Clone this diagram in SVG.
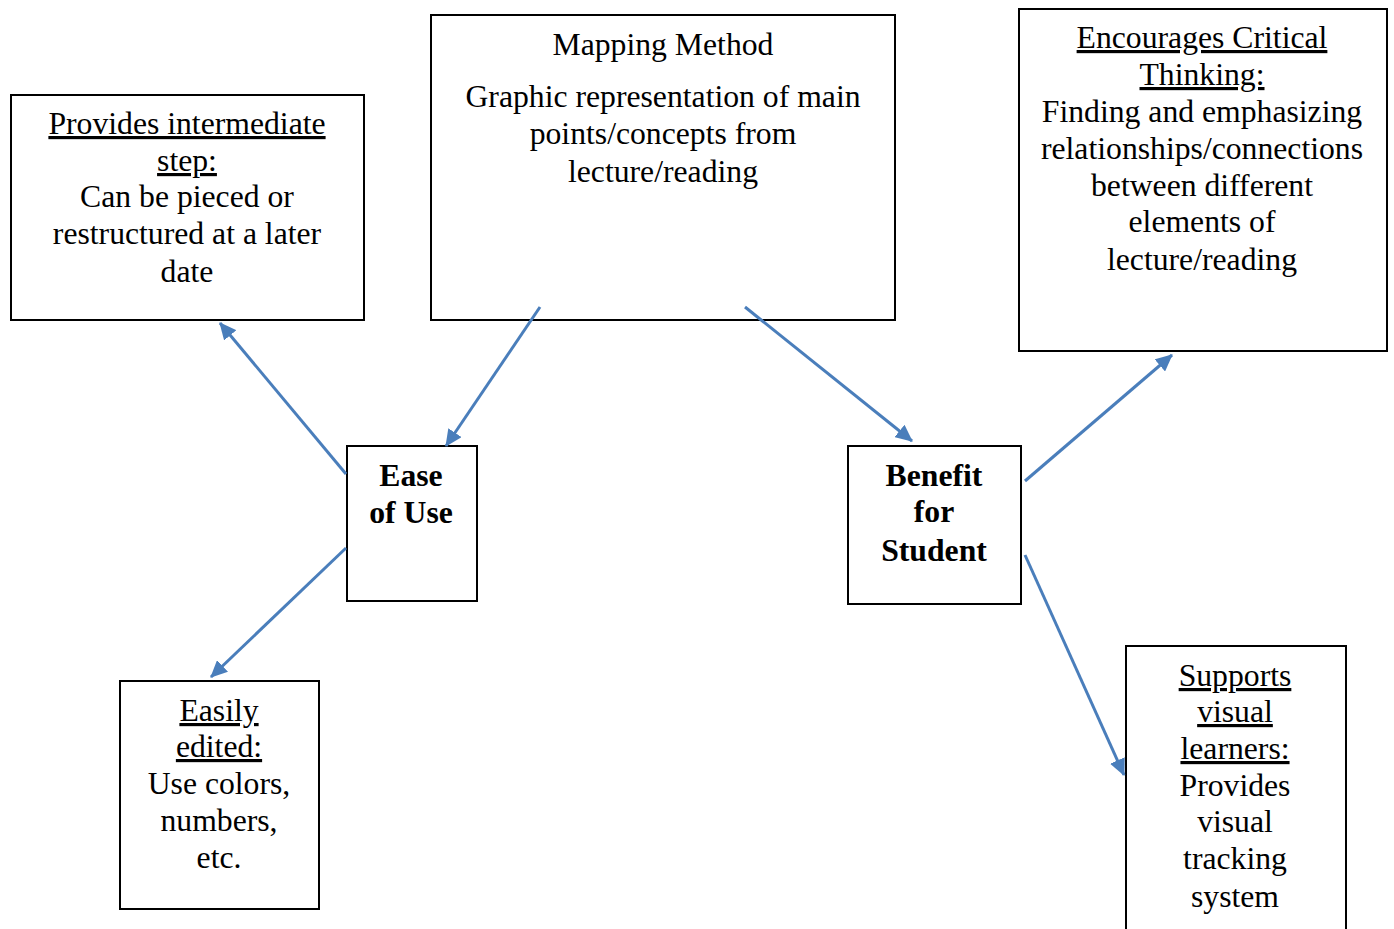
<svg xmlns="http://www.w3.org/2000/svg" width="1394" height="929" viewBox="0 0 1394 929">
<style>
.box{fill:#fff;stroke:#000;stroke-width:2}
.t{font-family:"Liberation Serif","Times New Roman",serif;font-size:31.7px;fill:#000;text-anchor:middle}
.b{font-weight:bold}
.u{text-decoration:underline}
.c{stroke:#4a7ebb;stroke-width:3;fill:none;marker-end:url(#ah)}
</style>
<defs>
<marker id="ah" markerUnits="userSpaceOnUse" markerWidth="18" markerHeight="16" refX="16" refY="8" orient="auto">
<path d="M0,0 L17,8 L0,16 Z" fill="#4a7ebb"/>
</marker>
</defs>
<rect width="1394" height="929" fill="#fff"/>
<g id="provides">
<rect class="box" x="11" y="95" width="353" height="225"/>
<text class="t"><tspan class="u" x="187" y="134">Provides intermediate</tspan><tspan class="u" x="187" y="171">step:</tspan><tspan x="187" y="207">Can be pieced or</tspan><tspan x="187" y="244">restructured at a later</tspan><tspan x="187" y="282">date</tspan></text>
</g>
<g id="mapping">
<rect class="box" x="431" y="15" width="464" height="305"/>
<text class="t"><tspan x="663" y="55">Mapping Method</tspan><tspan x="663" y="107">Graphic representation of main</tspan><tspan x="663" y="144">points/concepts from</tspan><tspan x="663" y="182">lecture/reading</tspan></text>
</g>
<g id="encourages">
<rect class="box" x="1019" y="9" width="368" height="342"/>
<text class="t"><tspan class="u" x="1202" y="48">Encourages Critical</tspan><tspan class="u" x="1202" y="85">Thinking:</tspan><tspan x="1202" y="122">Finding and emphasizing</tspan><tspan x="1202" y="159">relationships/connections</tspan><tspan x="1202" y="196">between different</tspan><tspan x="1202" y="232">elements of</tspan><tspan x="1202" y="270">lecture/reading</tspan></text>
</g>
<g id="ease">
<rect class="box" x="347" y="446" width="130" height="155"/>
<text class="t b"><tspan x="411" y="486">Ease</tspan><tspan x="411" y="523">of Use</tspan></text>
</g>
<g id="benefit">
<rect class="box" x="848" y="446" width="173" height="158"/>
<text class="t b"><tspan x="934" y="486">Benefit</tspan><tspan x="934" y="522">for</tspan><tspan x="934" y="561">Student</tspan></text>
</g>
<g id="easily">
<rect class="box" x="120" y="681" width="199" height="228"/>
<text class="t"><tspan class="u" x="219" y="721">Easily</tspan><tspan class="u" x="219" y="757">edited:</tspan><tspan x="219" y="794">Use colors,</tspan><tspan x="219" y="831">numbers,</tspan><tspan x="219" y="868">etc.</tspan></text>
</g>
<g id="supports">
<rect class="box" x="1126" y="646" width="220" height="300"/>
<text class="t"><tspan class="u" x="1235" y="686">Supports</tspan><tspan class="u" x="1235" y="722">visual</tspan><tspan class="u" x="1235" y="759">learners:</tspan><tspan x="1235" y="796">Provides</tspan><tspan x="1235" y="832">visual</tspan><tspan x="1235" y="869">tracking</tspan><tspan x="1235" y="907">system</tspan></text>
</g>
<g id="connectors">
<line class="c" x1="346" y1="474" x2="220" y2="323"/>
<line class="c" x1="540" y1="307" x2="446" y2="446"/>
<line class="c" x1="745" y1="307" x2="912" y2="441"/>
<line class="c" x1="1025" y1="481" x2="1172" y2="355"/>
<line class="c" x1="1025" y1="555" x2="1124" y2="775"/>
<line class="c" x1="346" y1="548" x2="211" y2="677"/>
</g>
</svg>
